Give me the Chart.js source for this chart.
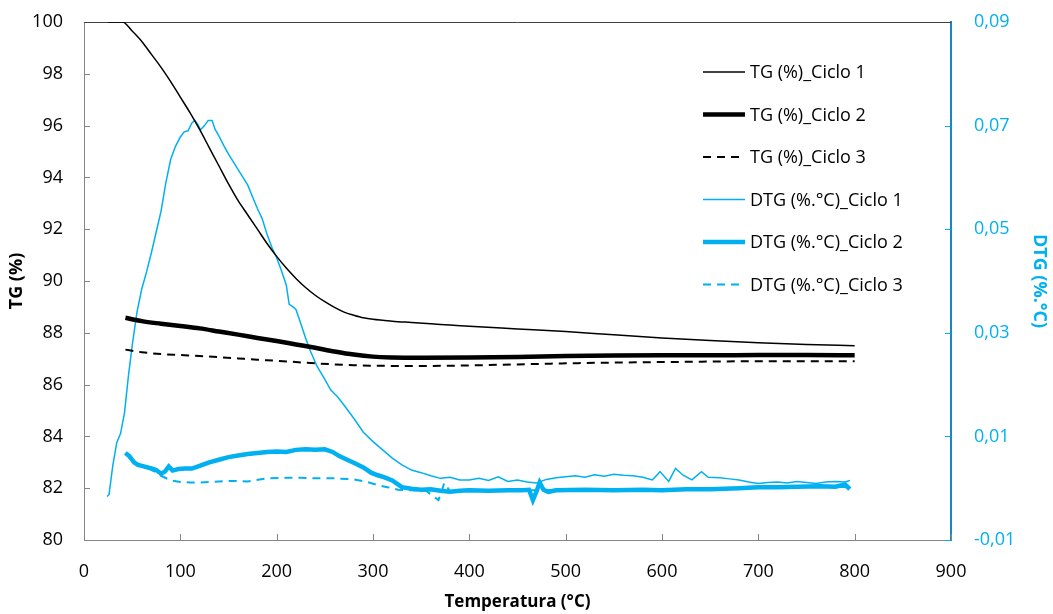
<!DOCTYPE html>
<html>
<head>
<meta charset="utf-8">
<script src="https://cdn.jsdelivr.net/npm/chart.js@4"></script>
<style>
  html, body { margin: 0; padding: 0; background: #fff; }
</style>
</head>
<body>
<canvas id="chart" width="1053" height="614"></canvas>
<script>
// TG curves (%), temperature in °C
const tg1Temp = [25,40,50,60,70,80,90,100,110,120,130,140,150,160,170,180,190,200,210,220,230,240,250,260,270,280,290,300,320,340,360,380,400,450,500,550,600,650,700,750,800];
const tg1 = [100,100,99.65,99.25,98.75,98.25,97.7,97.1,96.5,95.85,95.15,94.45,93.75,93.1,92.55,92.0,91.45,90.95,90.5,90.1,89.75,89.45,89.2,88.98,88.8,88.68,88.58,88.52,88.45,88.4,88.35,88.3,88.25,88.15,88.05,87.92,87.8,87.7,87.62,87.55,87.5];

const tg2Temp = [43,60,80,100,120,140,160,180,200,220,240,260,280,300,320,350,400,450,500,550,600,650,700,750,800];
const tg2 = [88.58,88.45,88.35,88.26,88.17,88.05,87.93,87.8,87.68,87.55,87.42,87.28,87.16,87.08,87.05,87.04,87.05,87.07,87.1,87.12,87.13,87.13,87.14,87.14,87.13];

const tg3Temp = [43,60,80,100,120,140,160,180,200,220,240,260,280,300,350,400,450,500,550,600,650,700,750,800];
const tg3 = [87.35,87.25,87.18,87.14,87.1,87.06,87.01,86.96,86.92,86.87,86.82,86.78,86.75,86.73,86.72,86.74,86.78,86.82,86.85,86.87,86.89,86.9,86.9,86.9];

// DTG curves (%.°C)
const dtg1Temp = [24,26,30,34,38,42,46,50,55,60,65,70,75,80,85,90,95,100,104,108,112,115,118,121,125,129,133,136,140,145,150,155,160,165,170,175,180,185,190,195,200,205,210,213,217,220,225,230,235,242,250,256,263,270,280,290,300,310,320,330,340,350,360,370,380,390,400,410,420,430,440,450,460,470,480,490,500,510,520,530,540,550,560,570,580,590,598,607,614,622,631,641,648,660,670,680,690,700,710,720,730,740,750,760,770,780,790,795];
const dtg1 = [-0.0016,-0.0012,0.0045,0.0088,0.0106,0.0145,0.0215,0.0275,0.0340,0.0385,0.0418,0.0455,0.0495,0.0535,0.0590,0.0635,0.0660,0.0678,0.0688,0.0690,0.0705,0.0710,0.0703,0.0692,0.0700,0.0710,0.0710,0.0693,0.0680,0.0662,0.0645,0.0630,0.0615,0.0600,0.0585,0.0562,0.0540,0.0520,0.0490,0.0465,0.0445,0.0420,0.0392,0.0355,0.0350,0.0345,0.0318,0.0290,0.0265,0.0235,0.0210,0.0190,0.0177,0.0160,0.0135,0.0108,0.0090,0.0074,0.0058,0.0045,0.0035,0.0030,0.0024,0.0019,0.0021,0.0016,0.0016,0.0019,0.0015,0.0022,0.0013,0.0016,0.0012,0.0010,0.0017,0.0020,0.0022,0.0024,0.0021,0.0026,0.0023,0.0027,0.0025,0.0024,0.0021,0.0016,0.0032,0.0013,0.0038,0.0025,0.0016,0.0032,0.0021,0.0020,0.0018,0.0016,0.0012,0.0009,0.0011,0.0012,0.0010,0.0013,0.0011,0.0009,0.0012,0.0013,0.0012,0.0015];

const dtg2Temp = [43,47,52,56,62,70,75,80,84,88,92,98,105,112,120,130,140,150,160,170,180,190,200,210,220,230,240,250,258,265,272,280,290,298,305,312,320,330,340,350,360,370,380,390,400,420,440,455,462,466,470,473,477,482,490,520,550,580,600,625,650,680,700,720,740,764,780,790,795];
const dtg2 = [0.0068,0.0062,0.0050,0.0045,0.0042,0.0038,0.0035,0.0028,0.0032,0.0042,0.0034,0.0037,0.0038,0.0038,0.0043,0.0050,0.0055,0.0060,0.0063,0.0066,0.0068,0.0070,0.0071,0.0070,0.0074,0.0075,0.0074,0.0075,0.0070,0.0062,0.0056,0.0049,0.0040,0.0030,0.0025,0.0021,0.0015,0.0002,-0.0001,-0.0003,-0.0002,-0.0005,-0.0007,-0.0005,-0.0004,-0.0005,-0.0004,-0.0004,-0.0003,-0.0023,-0.0005,0.0011,-0.0003,-0.0007,-0.0004,-0.0003,-0.0004,-0.0003,-0.0004,-0.0002,-0.0002,0.0000,0.0002,0.0002,0.0003,0.0004,0.0003,0.0007,-0.0002];

const dtg3Temp = [43,50,60,70,80,90,100,110,121,140,155,170,190,210,225,245,260,280,294,305,315,326,340,355,368,374,380,400,450,500,550,600,650,700,750,795];
const dtg3 = [0.0068,0.0052,0.0043,0.0036,0.0024,0.0015,0.0012,0.0011,0.0011,0.0013,0.0014,0.0013,0.0019,0.0020,0.0020,0.0019,0.0019,0.0017,0.0012,0.0006,0.0002,-0.0003,-0.0004,-0.0005,-0.0023,0.0010,-0.0006,-0.0005,-0.0004,-0.0004,-0.0003,-0.0003,-0.0002,0.0001,0.0003,0.0002];

const seriesNames = ['TG (%)_Ciclo 1','TG (%)_Ciclo 2','TG (%)_Ciclo 3','DTG (%.°C)_Ciclo 1','DTG (%.°C)_Ciclo 2','DTG (%.°C)_Ciclo 3'];

const FONT = '"Open Sans", sans-serif';
const BLUE = '#00B0F0';

const pairs = (xs, ys) => xs.map((x, i) => ({ x, y: ys[i] }));

// ticks drawn inside the plot, plus the top border
const innerTicks = {
  id: 'innerTicks',
  beforeDatasetsDraw(chart) {
    const { ctx, chartArea: a, scales } = chart;
    ctx.save();
    ctx.lineWidth = 1;
    ctx.strokeStyle = '#868686';
    ctx.beginPath();
    scales.x.ticks.forEach(t => {
      const px = Math.round(scales.x.getPixelForValue(t.value)) + 0.5;
      ctx.moveTo(px, a.bottom); ctx.lineTo(px, a.bottom - 6);
    });
    scales.y.ticks.forEach(t => {
      const py = Math.round(scales.y.getPixelForValue(t.value)) + 0.5;
      ctx.moveTo(a.left, py); ctx.lineTo(a.left + 6, py);
    });
    ctx.stroke();
    ctx.strokeStyle = BLUE;
    ctx.beginPath();
    scales.y2.ticks.forEach(t => {
      const py = Math.round(scales.y2.getPixelForValue(t.value)) + 0.5;
      ctx.moveTo(a.right, py); ctx.lineTo(a.right - 6, py);
    });
    ctx.stroke();
    ctx.strokeStyle = '#404040';
    ctx.beginPath();
    ctx.moveTo(a.left, a.top + 0.5); ctx.lineTo(a.right, a.top + 0.5);
    ctx.stroke();
    ctx.restore();
  }
};

// legend inside the plot area
const innerLegend = {
  id: 'innerLegend',
  afterDraw(chart) {
    const ctx = chart.ctx;
    ctx.save();
    ctx.font = '18px ' + FONT;
    ctx.textBaseline = 'middle';
    ctx.fillStyle = '#000';
    chart.data.datasets.forEach((ds, i) => {
      const y = 72 + i * 42.5;
      ctx.strokeStyle = ds.borderColor;
      ctx.lineWidth = ds.borderWidth;
      ctx.setLineDash(ds.borderDash || []);
      ctx.beginPath();
      ctx.moveTo(703, y); ctx.lineTo(745, y);
      ctx.stroke();
      ctx.setLineDash([]);
      ctx.fillText(ds.label, 750, y + 1);
    });
    ctx.restore();
  }
};

// fixed axis widths, no extra label padding at top
const fitY = w => s => { s.width = w; s.paddingTop = 0; s.paddingBottom = 0; };

new Chart(document.getElementById('chart'), {
  type: 'line',
  data: {
    datasets: [
      { label: seriesNames[0], data: pairs(tg1Temp, tg1), yAxisID: 'y', borderColor: '#000', borderWidth: 1.5, cubicInterpolationMode: 'monotone' },
      { label: seriesNames[1], data: pairs(tg2Temp, tg2), yAxisID: 'y', borderColor: '#000', borderWidth: 4.5, cubicInterpolationMode: 'monotone' },
      { label: seriesNames[2], data: pairs(tg3Temp, tg3), yAxisID: 'y', borderColor: '#000', borderWidth: 2, borderDash: [8, 6], cubicInterpolationMode: 'monotone' },
      { label: seriesNames[3], data: pairs(dtg1Temp, dtg1), yAxisID: 'y2', borderColor: BLUE, borderWidth: 1.5 },
      { label: seriesNames[4], data: pairs(dtg2Temp, dtg2), yAxisID: 'y2', borderColor: BLUE, borderWidth: 4.5 },
      { label: seriesNames[5], data: pairs(dtg3Temp, dtg3), yAxisID: 'y2', borderColor: BLUE, borderWidth: 2, borderDash: [8, 6] }
    ]
  },
  options: {
    responsive: false,
    animation: false,
    devicePixelRatio: 1,
    layout: { padding: { top: 22, left: 0, right: 0, bottom: 0 } },
    elements: { point: { radius: 0 }, line: { fill: false } },
    plugins: { legend: { display: false }, tooltip: { enabled: false } },
    scales: {
      x: {
        type: 'linear', min: 0, max: 900,
        afterFit: s => { s.height = 74; },
        ticks: { stepSize: 100, padding: 21, color: '#000', font: { family: FONT, size: 18 } },
        grid: { display: false, drawTicks: false },
        border: { color: '#868686', width: 1 },
        title: { display: true, text: 'Temperatura (°C)', color: '#000', padding: { top: 0, bottom: 2 }, font: { family: FONT, size: 17, weight: 'bold' } }
      },
      y: {
        position: 'left', min: 80, max: 100,
        afterFit: fitY(84),
        ticks: { stepSize: 2, padding: 21, color: '#000', font: { family: FONT, size: 18 } },
        grid: { display: false, drawTicks: false },
        border: { color: '#868686', width: 1 },
        title: { display: true, text: 'TG (%)', color: '#000', padding: { top: 6, bottom: 0 }, font: { family: FONT, size: 18, weight: 'bold' } }
      },
      y2: {
        position: 'right', min: -0.01, max: 0.09,
        afterFit: fitY(102),
        ticks: {
          stepSize: 0.02, padding: 23, color: BLUE, font: { family: FONT, size: 18 },
          callback: v => (Math.round(v * 100) / 100).toFixed(2).replace('.', ',')
        },
        grid: { display: false, drawTicks: false },
        border: { color: '#1A86C2', width: 2 },
        title: { display: true, text: 'DTG (%.°C)', color: BLUE, padding: { top: 3, bottom: 0 }, font: { family: FONT, size: 18, weight: 'bold' } }
      }
    }
  },
  plugins: [innerTicks, innerLegend]
});
</script>
</body>
</html>
